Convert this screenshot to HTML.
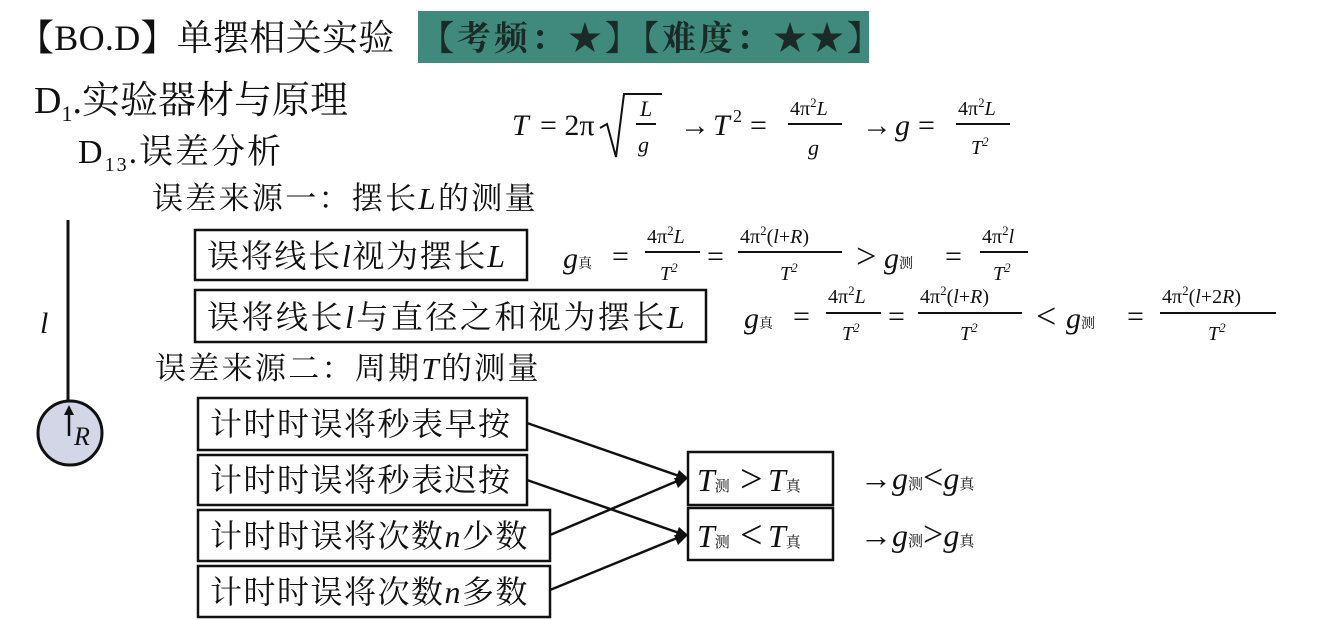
<!DOCTYPE html>
<html><head><meta charset="utf-8"><style>
html,body{margin:0;padding:0;background:#fff;}
svg{display:block;}
.cn{font-family:"Liberation Serif","Noto Serif CJK SC","Noto Sans CJK SC",serif;}
.m{font-family:"Liberation Serif","Noto Serif CJK SC",serif;font-style:italic;}
.r{font-family:"Liberation Serif","Noto Serif CJK SC",serif;}
</style></head><body>
<svg width="1328" height="620" viewBox="0 0 1328 620" xmlns="http://www.w3.org/2000/svg" fill="#111">
<rect x="0" y="0" width="1328" height="620" fill="#fff"/>
<!-- title -->
<text x="18" y="50" class="cn" font-size="36" letter-spacing="0.3">【BO.D】单摆相关实验</text>
<rect x="418" y="11" width="451" height="52" fill="#3f8a7c"/>
<text x="420" y="50" class="cn" font-size="34" font-weight="bold" fill="#1a2a26" letter-spacing="3">【考频：★】【难度：★★】</text>
<!-- headings -->
<text x="34" y="113" class="cn" font-size="38">D<tspan font-size="22" dy="8">1</tspan><tspan dy="-8">.实验器材与原理</tspan></text>
<text x="78" y="163" class="cn" font-size="34" letter-spacing="2">D<tspan font-size="20" dy="8">13</tspan><tspan dy="-8">.误差分析</tspan></text>
<!-- main formula -->
<g font-size="30">
<text x="512" y="135" class="m">T</text>
<text x="540" y="135" class="r">= 2π</text>
<path d="M600,128 L607,124 L616,157 L624,94 L662,94" stroke="#111" stroke-width="2" fill="none"/>
<text x="640" y="116" class="m" font-size="22">L</text>
<line x1="636" y1="124" x2="656" y2="124" stroke="#111" stroke-width="2"/>
<text x="638" y="152" class="m" font-size="22">g</text>
<text x="680" y="135" class="r">→</text><text x="713" y="135" class="m">T</text><text x="733" y="122" class="r" font-size="18">2</text><text x="750" y="135" class="r">=</text>
<text x="790" y="115" class="r" font-size="20">4π<tspan font-size="13" dy="-8">2</tspan><tspan class="m" dy="8">L</tspan></text>
<line x1="788" y1="124" x2="842" y2="124" stroke="#111" stroke-width="2"/>
<text x="808" y="155" class="m" font-size="22">g</text>
<text x="862" y="135" class="r">→</text><text x="895" y="135" class="m">g</text><text x="918" y="135" class="r">=</text>
<text x="958" y="115" class="r" font-size="20">4π<tspan font-size="13" dy="-8">2</tspan><tspan class="m" dy="8">L</tspan></text>
<line x1="956" y1="124" x2="1010" y2="124" stroke="#111" stroke-width="2"/>
<text x="971" y="154" class="m" font-size="20">T<tspan class="r" font-size="13" dy="-8">2</tspan></text>
</g>
<!-- source 1 -->
<text x="152" y="209" class="cn" font-size="31" letter-spacing="2.3">误差来源一：摆长<tspan class="m">L</tspan>的测量</text>
<!-- pendulum -->
<line x1="68" y1="220" x2="68" y2="432" stroke="#111" stroke-width="3"/>
<circle cx="70" cy="433" r="32" fill="#d3d6e6" stroke="#111" stroke-width="3"/>
<line x1="69" y1="412" x2="69" y2="436" stroke="#111" stroke-width="2.5"/>
<path d="M64,415 L69,405 L74,415 Z" fill="#111"/>
<text x="74" y="445" class="m" font-size="26">R</text>
<text x="40" y="333" class="m" font-size="30">l</text>
<!-- boxes -->
<g fill="none" stroke="#111" stroke-width="2.5">
<rect x="195" y="230" width="332" height="50"/>
<rect x="195" y="290" width="511" height="52"/>
<rect x="198" y="398" width="329" height="52"/>
<rect x="198" y="455" width="329" height="50"/>
<rect x="198" y="510" width="352" height="51"/>
<rect x="198" y="566" width="352" height="51"/>
<rect x="688" y="452" width="145" height="53"/>
<rect x="688" y="508" width="145" height="52"/>
</g>
<text x="207" y="267" class="cn" font-size="32" letter-spacing="1.7">误将线长<tspan class="m">l</tspan>视为摆长<tspan class="m">L</tspan></text>
<text x="207" y="328" class="cn" font-size="32" letter-spacing="2.5">误将线长<tspan class="m">l</tspan>与直径之和视为摆长<tspan class="m">L</tspan></text>
<!-- formula row 1 -->
<g font-size="30">
<text x="563" y="268" class="m">g<tspan class="cn" font-size="14" font-style="normal">真</tspan></text>
<text x="612" y="266" class="r">=</text>
<text x="647" y="243" class="r" font-size="20">4π<tspan font-size="13" dy="-8">2</tspan><tspan class="m" dy="8">L</tspan></text>
<line x1="645" y1="252" x2="700" y2="252" stroke="#111" stroke-width="2"/>
<text x="660" y="280" class="m" font-size="20">T<tspan class="r" font-size="13" dy="-8">2</tspan></text>
<text x="707" y="266" class="r">=</text>
<text x="740" y="243" class="r" font-size="20">4π<tspan font-size="13" dy="-8">2</tspan><tspan dy="8">(</tspan><tspan class="m">l</tspan>+<tspan class="m">R</tspan>)</text>
<line x1="738" y1="252" x2="842" y2="252" stroke="#111" stroke-width="2"/>
<text x="780" y="280" class="m" font-size="20">T<tspan class="r" font-size="13" dy="-8">2</tspan></text>
<text x="856" y="268" class="r" font-size="36">&gt;</text>
<text x="884" y="268" class="m">g<tspan class="cn" font-size="14" font-style="normal">测</tspan></text>
<text x="945" y="266" class="r">=</text>
<text x="982" y="243" class="r" font-size="20">4π<tspan font-size="13" dy="-8">2</tspan><tspan class="m" dy="8">l</tspan></text>
<line x1="980" y1="252" x2="1028" y2="252" stroke="#111" stroke-width="2"/>
<text x="993" y="280" class="m" font-size="20">T<tspan class="r" font-size="13" dy="-8">2</tspan></text>
</g>
<!-- formula row 2 -->
<g font-size="30">
<text x="744" y="328" class="m">g<tspan class="cn" font-size="14" font-style="normal">真</tspan></text>
<text x="793" y="326" class="r">=</text>
<text x="828" y="303" class="r" font-size="20">4π<tspan font-size="13" dy="-8">2</tspan><tspan class="m" dy="8">L</tspan></text>
<line x1="826" y1="313" x2="881" y2="313" stroke="#111" stroke-width="2"/>
<text x="842" y="340" class="m" font-size="20">T<tspan class="r" font-size="13" dy="-8">2</tspan></text>
<text x="888" y="326" class="r">=</text>
<text x="920" y="303" class="r" font-size="20">4π<tspan font-size="13" dy="-8">2</tspan><tspan dy="8">(</tspan><tspan class="m">l</tspan>+<tspan class="m">R</tspan>)</text>
<line x1="918" y1="313" x2="1022" y2="313" stroke="#111" stroke-width="2"/>
<text x="960" y="340" class="m" font-size="20">T<tspan class="r" font-size="13" dy="-8">2</tspan></text>
<text x="1036" y="328" class="r" font-size="36">&lt;</text>
<text x="1066" y="328" class="m">g<tspan class="cn" font-size="14" font-style="normal">测</tspan></text>
<text x="1127" y="326" class="r">=</text>
<text x="1162" y="303" class="r" font-size="20">4π<tspan font-size="13" dy="-8">2</tspan><tspan dy="8">(</tspan><tspan class="m">l</tspan>+2<tspan class="m">R</tspan>)</text>
<line x1="1160" y1="313" x2="1276" y2="313" stroke="#111" stroke-width="2"/>
<text x="1208" y="340" class="m" font-size="20">T<tspan class="r" font-size="13" dy="-8">2</tspan></text>
</g>
<!-- source 2 -->
<text x="155" y="379" class="cn" font-size="31" letter-spacing="2.3">误差来源二：周期<tspan class="m">T</tspan>的测量</text>
<g class="cn" font-size="32" letter-spacing="1.5">
<text x="210" y="435">计时时误将秒表早按</text>
<text x="210" y="491">计时时误将秒表迟按</text>
<text x="210" y="547">计时时误将次数<tspan class="m">n</tspan>少数</text>
<text x="210" y="603">计时时误将次数<tspan class="m">n</tspan>多数</text>
</g>
<!-- arrows -->
<g stroke="#111" stroke-width="2.5">
<line x1="527" y1="423" x2="682" y2="477"/>
<line x1="527" y1="480" x2="682" y2="534"/>
<line x1="550" y1="535" x2="682" y2="479"/>
<line x1="550" y1="590" x2="682" y2="536"/>
</g>
<path d="M688,478 L675,480 L679,470 Z M688,535 L675,537 L679,527 Z M688,478 L678,488 L674,478 Z M688,535 L678,545 L674,535 Z" fill="#111"/>
<!-- result boxes text -->
<g font-size="32">
<text x="697" y="491" class="m">T<tspan class="cn" font-size="15" font-style="normal">测</tspan></text>
<text x="740" y="492" class="r" font-size="40">&gt;</text>
<text x="768" y="491" class="m">T<tspan class="cn" font-size="15" font-style="normal">真</tspan></text>
<text x="697" y="547" class="m">T<tspan class="cn" font-size="15" font-style="normal">测</tspan></text>
<text x="740" y="548" class="r" font-size="40">&lt;</text>
<text x="768" y="547" class="m">T<tspan class="cn" font-size="15" font-style="normal">真</tspan></text>
<text x="860" y="489" class="r">→<tspan class="m">g</tspan><tspan class="cn" font-size="15">测</tspan><tspan font-size="36">&lt;</tspan><tspan class="m">g</tspan><tspan class="cn" font-size="15">真</tspan></text>
<text x="860" y="546" class="r">→<tspan class="m">g</tspan><tspan class="cn" font-size="15">测</tspan><tspan font-size="36">&gt;</tspan><tspan class="m">g</tspan><tspan class="cn" font-size="15">真</tspan></text>
</g>
</svg>
</body></html>
